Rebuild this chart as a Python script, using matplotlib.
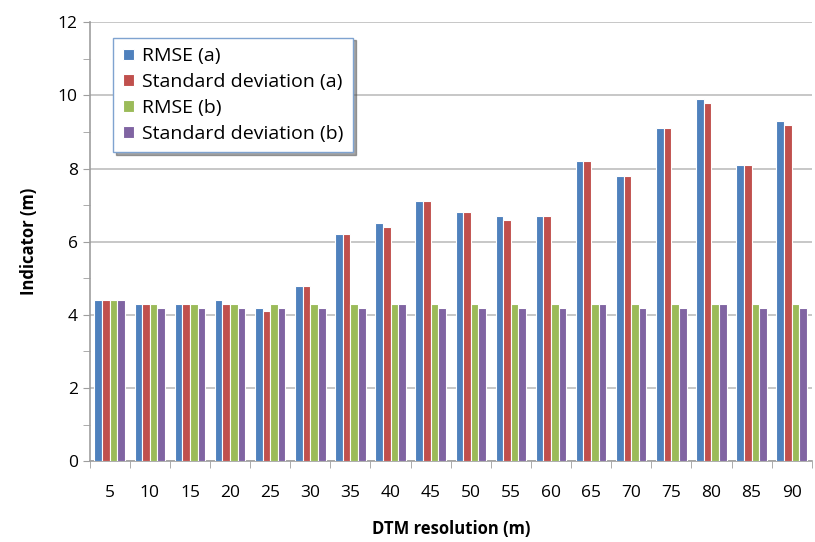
import numpy as np
import matplotlib.pyplot as plt
from matplotlib.ticker import MultipleLocator

plt.rcParams['font.family'] = ['Open Sans', 'DejaVu Sans']

# Data
resolution = ["5", "10", "15", "20", "25", "30", "35", "40", "45",
              "50", "55", "60", "65", "70", "75", "80", "85", "90"]
rmse_a = [4.4, 4.3, 4.3, 4.4, 4.2, 4.8, 6.2, 6.5, 7.1,
          6.8, 6.7, 6.7, 8.2, 7.8, 9.1, 9.9, 8.1, 9.3]
std_a = [4.4, 4.3, 4.3, 4.3, 4.1, 4.8, 6.2, 6.4, 7.1,
         6.8, 6.6, 6.7, 8.2, 7.8, 9.1, 9.8, 8.1, 9.2]
rmse_b = [4.4, 4.3, 4.3, 4.3, 4.3, 4.3, 4.3, 4.3, 4.3,
          4.3, 4.3, 4.3, 4.3, 4.3, 4.3, 4.3, 4.3, 4.3]
std_b = [4.4, 4.2, 4.2, 4.2, 4.2, 4.2, 4.2, 4.3, 4.2,
         4.2, 4.2, 4.2, 4.3, 4.2, 4.2, 4.3, 4.2, 4.2]

series = [
    ("RMSE (a)", rmse_a, "#4F81BD"),
    ("Standard deviation (a)", std_a, "#C0504D"),
    ("RMSE (b)", rmse_b, "#9BBB59"),
    ("Standard deviation (b)", std_b, "#8064A2"),
]

fig = plt.figure(figsize=(8.15, 5.42), dpi=100)
ax = fig.add_axes([0.110, 0.149, 0.886, 0.810])

x = np.arange(len(resolution))
w = 0.19
for i, (name, vals, col) in enumerate(series):
    ax.bar(x + (i - 1.5) * w, vals, width=w, color=col, edgecolor="white",
           linewidth=0.8, label=name, zorder=3)

ax.set_xlim(-0.5, len(resolution) - 0.55)
ax.set_ylim(0, 12)
ax.yaxis.set_major_locator(MultipleLocator(2))
ax.yaxis.set_minor_locator(MultipleLocator(1))
ax.grid(axis="y", which="major", color="#BDBDBD", linewidth=1.2, zorder=0)

ax.set_xticks(x)
ax.set_xticklabels(resolution, fontsize=12.5)
ax.set_xticks(np.arange(len(resolution) + 1) - 0.5, minor=True)
ax.tick_params(axis="x", which="major", length=0, pad=17)
ax.tick_params(axis="x", which="minor", length=5, color="#9E9E9E")
ax.tick_params(axis="y", which="both", length=5, color="#9E9E9E", labelsize=12.5)

for s in ["top", "right"]:
    ax.spines[s].set_visible(False)
for s in ["left", "bottom"]:
    ax.spines[s].set_color("#9E9E9E")
    ax.spines[s].set_linewidth(1.2)

ax.set_xlabel("DTM resolution (m)", fontsize=12, fontweight="bold", labelpad=14)
ax.set_ylabel("Indicator (m)", fontsize=12, fontweight="bold", labelpad=14)

leg = ax.legend(loc="upper left", bbox_to_anchor=(0.033, 0.965), fontsize=14,
                frameon=True, fancybox=False, shadow=True, handlelength=0.55,
                handleheight=0.55, handletextpad=0.4, labelspacing=0.4,
                borderpad=0.5, borderaxespad=0)
leg.get_frame().set_edgecolor("#7FA3D0")
leg.get_frame().set_linewidth(1.0)

fig.savefig("out.png", dpi=100)
